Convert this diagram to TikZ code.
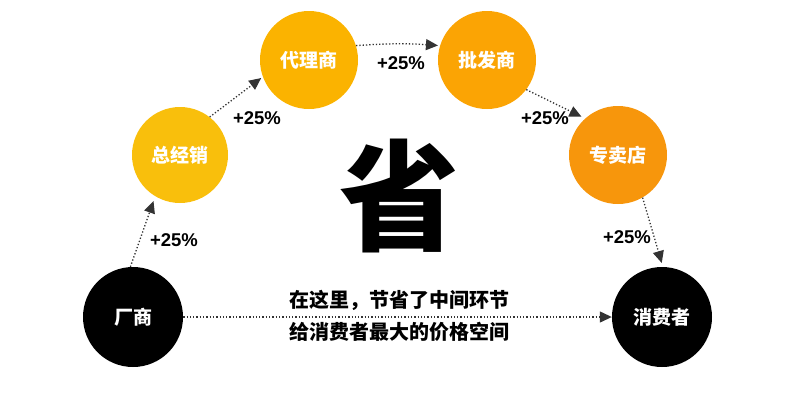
\documentclass[tikz,border=0pt]{standalone}
\usepackage{fontspec}
\setmainfont{Noto Sans CJK SC}
\newfontfamily\latinbold{Liberation Sans}
\usetikzlibrary{arrows.meta}
\definecolor{c1}{HTML}{F9BF0C}
\definecolor{c2}{HTML}{FBB300}
\definecolor{c3}{HTML}{FBA404}
\definecolor{c4}{HTML}{F7960C}
\definecolor{linec}{HTML}{333333}
\tikzset{
  stage/.style={circle, inner sep=0pt, text=white, font=\bfseries\fontsize{19}{19}\selectfont},
  flow/.style={draw=linec, line width=1.3pt, dotted, -{Triangle[length=12pt,width=11pt]}},
  pct/.style={font=\latinbold\bfseries\fontsize{18.5}{18.5}\selectfont, text=black}
}
\begin{document}
\begin{tikzpicture}[x=1pt,y=-1pt]
\useasboundingbox (0,0) rectangle (790,408);
\node[stage, fill=black, minimum size=100pt] (m) at (133,317) {厂商};
\node[stage, fill=c1, minimum size=96pt] (d) at (180,155) {总经销};
\node[stage, fill=c2, minimum size=98pt] (a) at (309,60) {代理商};
\node[stage, fill=c3, minimum size=98pt] (w) at (487,60) {批发商};
\node[stage, fill=c4, minimum size=98pt] (s) at (618,155) {专卖店};
\node[stage, fill=black, minimum size=100pt] (c) at (662,317) {消费者};

\draw[flow, shorten >=5pt] (m.93) -- (d.239);
\draw[flow, shorten >=2pt] (d.52) -- (a.200);
\draw[flow, shorten >=2pt] (a.17) to[bend left=4] (w.163);
\draw[flow, shorten >=4pt] (w.-37) -- (s.132);
\draw[flow, shorten >=4pt] (s.-60) -- (c.89);
\draw[flow] (m.east) -- (c.west);

\node[pct] (p1) at (174,240) {+25\%};
\node[pct] (p2) at (257,118) {+25\%};
\node[pct] (p3) at (401,63) {+25\%};
\node[pct] (p4) at (545,118) {+25\%};
\node[pct] (p5) at (627,237) {+25\%};

\node[font=\bfseries\fontsize{120}{120}\selectfont, text=black] (big) at (399,196) {省};
\node[font=\bfseries\fontsize{20}{20}\selectfont, text=black] (t1) at (399,300) {在这里，节省了中间环节};
\node[font=\bfseries\fontsize{20}{20}\selectfont, text=black] (t2) at (399,332) {给消费者最大的价格空间};
\end{tikzpicture}
\end{document}
